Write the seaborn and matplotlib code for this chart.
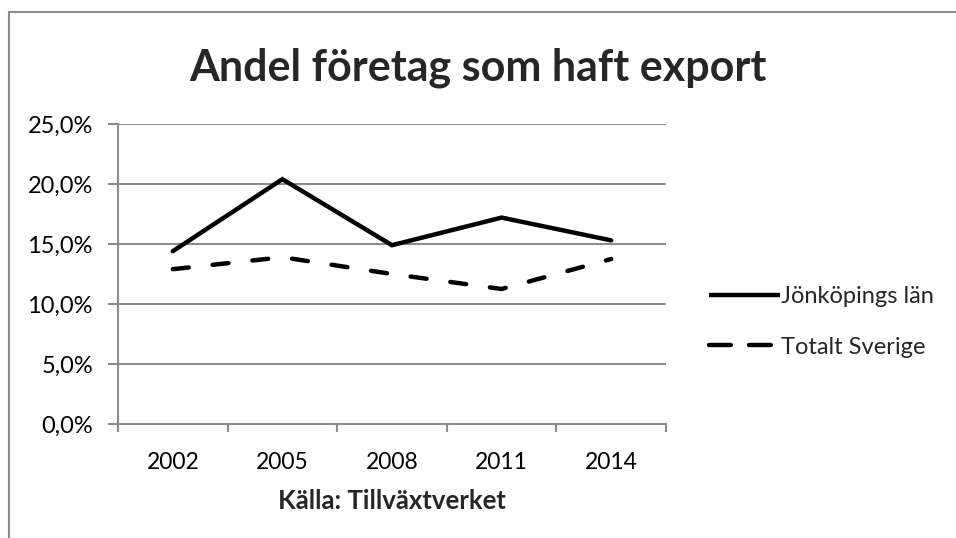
import matplotlib
matplotlib.use("Agg")
import matplotlib.pyplot as plt
import seaborn as sns
import pandas as pd
import numpy as np
from matplotlib.lines import Line2D
from matplotlib.ticker import FixedLocator, FuncFormatter

years = ["2002", "2005", "2008", "2011", "2014"]
jonkoping = [14.4, 20.4, 14.9, 17.2, 15.3]
sverige = [12.9, 13.9, 12.5, 11.25, 13.75]
series_names = ["Jönköpings län", "Totalt Sverige"]
title = "Andel företag som haft export"
xlabel = "Källa: Tillväxtverket"
yticks = [0, 5, 10, 15, 20, 25]

sns.set_theme(style="white")
plt.rcParams["font.family"] = ["Lato", "DejaVu Sans"]

df = pd.DataFrame({
    "pos": list(range(len(years))) * 2,
    "value": jonkoping + sverige,
    "serie": [series_names[0]] * len(years) + [series_names[1]] * len(years),
})

fig = plt.figure(figsize=(9.56, 5.38), dpi=100)
W, H = 956, 538
ax = fig.add_axes([118 / W, 1 - 424 / H, (666 - 118) / W, (424 - 124) / H])

LW = 3.2
sns.lineplot(data=df, x="pos", y="value", hue="serie", style="serie",
             palette=["black", "black"],
             dashes={series_names[0]: "", series_names[1]: (3.6, 5.4)},
             linewidth=LW, ax=ax, legend=False, sort=False)
for ln in ax.lines:
    ln.set_dash_capstyle("round")
    ln.set_solid_capstyle("round")
    ln.set_solid_joinstyle("miter")

grey = "#8c8c8c"
ax.set_xlim(-0.5, len(years) - 0.5)
ax.set_ylim(0, 25)
ax.yaxis.set_major_locator(FixedLocator(yticks))
ax.yaxis.set_major_formatter(FuncFormatter(lambda v, p: f"{v:.1f}%".replace(".", ",")))
ax.grid(axis="y", color=grey, linewidth=1.5)
ax.set_axisbelow(True)

ax.set_xticks(np.arange(-0.5, len(years), 1.0))
ax.set_xticklabels([])
ax.set_xticks(range(len(years)), minor=True)
ax.set_xticklabels(years, minor=True)
ax.tick_params(axis="x", which="major", length=6, width=1.5, color=grey, direction="out", bottom=True)
ax.tick_params(axis="x", which="minor", length=0, labelsize=16.5, pad=20, labelcolor="black")
ax.tick_params(axis="y", which="major", length=7, width=1.5, color=grey, direction="out", left=True,
               labelsize=17, pad=11, labelcolor="black")

for s in ["top", "right"]:
    ax.spines[s].set_visible(False)
for s in ["left", "bottom"]:
    ax.spines[s].set_color(grey)
    ax.spines[s].set_linewidth(1.5)

ax.set_ylabel("")
ax.set_xlabel(xlabel, fontsize=18.5, fontweight="bold", labelpad=12)

fig.text(478 / W, 1 - 68 / H, title, ha="center", va="center", fontsize=31, fontweight="bold")

# legend
handles = [Line2D([0], [0], color="black", lw=LW, solid_capstyle="butt"),
           Line2D([0], [0], color="black", lw=LW, linestyle=(0, (4.9, 4.1)), dash_capstyle="round")]
leg = fig.legend(handles, series_names, loc="center left", bbox_to_anchor=(688 / W, 1 - 322 / H),
                 frameon=False, fontsize=17, handlelength=3.0, handletextpad=0.05, labelspacing=1.25)

# outer frame
fig.add_artist(Line2D([9 / W, 9 / W], [0, 1 - 12 / H], color=grey, lw=1.5))
fig.add_artist(Line2D([9 / W, 1], [1 - 12 / H, 1 - 12 / H], color=grey, lw=1.5))

fig.savefig("out.png", dpi=100)
